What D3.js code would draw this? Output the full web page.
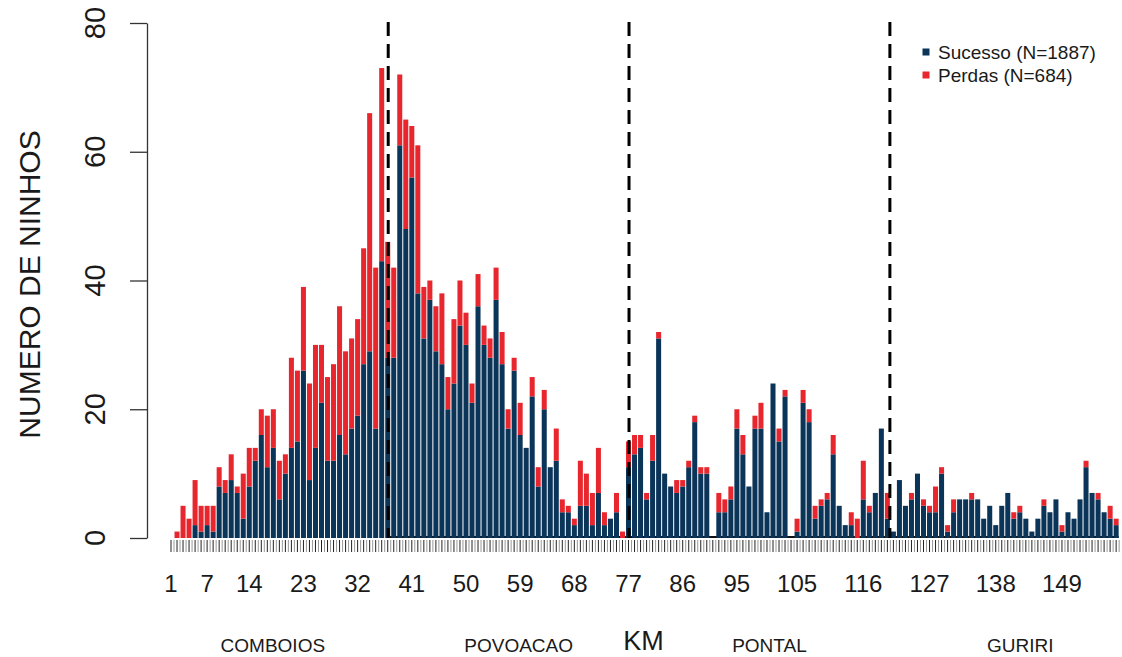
<!DOCTYPE html>
<html><head><meta charset="utf-8">
<script src="https://cdn.jsdelivr.net/npm/d3@7"></script>
<style>
body{margin:0;background:#fff}
svg text{font-family:"Liberation Sans",Arial,Helvetica,sans-serif;fill:#1a1a1a}
</style>
</head><body>
<svg id="chart" width="1122" height="657"></svg>
<script>
// ---- data ----
const km = d3.range(1, 159);
const sucesso = [
  0,0,0,0,2,1,2,1,8,7,
  9,7,3,8,12,16,11,14,6,10,
  14,15,26,9,14,21,12,12,16,13,
  17,19,27,29,17,43,28,28,61,48,
  56,38,31,37,29,27,20,24,33,30,
  21,36,30,28,37,27,17,26,16,14,
  22,8,20,11,12,4,4,2,5,5,
  2,7,2,3,4,0,11,13,14,6,
  12,31,10,8,7,8,11,18,10,10,
  0,4,4,6,17,13,8,17,17,4,
  24,15,22,0,1,21,18,3,5,6,
  13,5,2,2,0,6,4,7,17,3,
  1,9,5,6,10,5,4,4,10,1,
  4,6,6,6,6,3,5,2,5,7,
  3,4,3,1,3,5,4,6,1,4,
  3,6,11,7,6,4,3,2
];
const perdas = [
  0,1,5,3,7,4,3,4,3,2,
  4,1,7,6,2,4,8,6,6,3,
  14,11,13,15,16,9,13,15,20,16,
  14,15,18,37,25,30,18,14,11,17,
  8,23,8,3,7,11,5,10,7,5,
  3,5,3,3,5,5,3,2,5,0,
  3,3,3,0,5,2,1,1,7,5,
  5,7,2,0,3,1,4,3,2,1,
  4,1,0,0,2,1,1,1,1,1,
  0,3,2,2,3,3,0,2,4,0,
  0,2,1,0,2,2,2,2,1,1,
  3,0,0,2,3,6,1,0,0,4,
  0,0,0,1,0,1,1,4,1,1,
  2,0,0,1,0,0,0,0,0,0,
  1,1,0,0,0,1,0,0,1,0,
  0,0,1,0,1,0,2,1
];
const kmTickLabels = [1,7,14,23,32,41,50,59,68,77,86,95,105,116,127,138,149];
const yTickValues = [0,20,40,60,80];
const regionNames = ["COMBOIOS","POVOACAO","PONTAL","GURIRI"];
const regionAt = [21,70,120,170];      // in barplot units
const dividerAt = [44,92,144];         // in barplot units
const seriesNames = ["Sucesso (N=1887)","Perdas (N=684)"];
const seriesColors = ["#0b3459","#e8262d"];
const yTitle = "NUMERO DE NINHOS";
const xTitle = "KM";

// ---- scales ----
const svg = d3.select("#chart");
const xu = d3.scaleLinear().domain([0.7, 189.1]).range([171, 171 + 157*6.02]);
const x = d3.scaleBand().domain(km).range([xu(0.1), xu(189.7)])
  .paddingInner(1/6).paddingOuter(1/12);
const y = d3.scaleLinear().domain([0, 80]).range([538, 23]);

const rows = km.map((k,i) => ({km:k, s:sucesso[i], p:perdas[i]}));
const stack = d3.stack().keys(["s","p"])(rows);

// baseline segment (dark line under bars)
svg.append("line")
  .attr("x1", xu(dividerAt[0])).attr("x2", x(km[km.length-1]) + x.bandwidth())
  .attr("y1", y(0)-1).attr("y2", y(0)-1)
  .attr("stroke", "#111").attr("stroke-width", 2);

// bars
svg.append("g").selectAll("g").data(stack).join("g")
  .attr("fill", (d,i) => seriesColors[i])
  .selectAll("rect").data(d => d).join("rect")
  .attr("x", d => x(d.data.km))
  .attr("width", x.bandwidth())
  .attr("y", d => y(d[1]))
  .attr("height", d => y(d[0]) - y(d[1]));

// x ticks under every bar
const tg = svg.append("g");
tg.selectAll("line.c").data(km).join("line")
  .attr("x1", d => x(d) + x.bandwidth()/2).attr("x2", d => x(d) + x.bandwidth()/2)
  .attr("y1", 540).attr("y2", 552).attr("stroke", "#222").attr("stroke-width", 1);
tg.selectAll("line.g").data(km).join("line")
  .attr("x1", d => x(d) + x.bandwidth() + 0.5).attr("x2", d => x(d) + x.bandwidth() + 0.5)
  .attr("y1", 540).attr("y2", 552).attr("stroke", "#999").attr("stroke-width", 1);

// x tick labels
svg.append("g").selectAll("text").data(kmTickLabels).join("text")
  .attr("x", d => x(d) + x.bandwidth()/2).attr("y", 592)
  .attr("text-anchor", "middle").style("font-size", "24px")
  .text(d => d);

// dividers
svg.append("g").selectAll("line").data(dividerAt).join("line")
  .attr("x1", d => xu(d)).attr("x2", d => xu(d))
  .attr("y1", y(80) - 1).attr("y2", y(0))
  .attr("stroke", "#000").attr("stroke-width", 3)
  .attr("stroke-dasharray", "14 8");

// y axis
const yAxis = d3.axisLeft(y).tickValues(yTickValues).tickSize(17).tickSizeOuter(0).tickFormat("");
const ya = svg.append("g").attr("transform", "translate(147,0)").call(yAxis);
ya.selectAll("path,line").attr("stroke", "#333").attr("stroke-width", 1.3);
svg.append("g").selectAll("text").data(yTickValues).join("text")
  .attr("transform", d => `translate(95,${y(d)}) rotate(-90)`)
  .attr("text-anchor", "middle").attr("dy", "0.36em")
  .style("font-size", "29px").text(d => d);

// y title
svg.append("text")
  .attr("transform", `translate(29,${(y(0)+y(80))/2 + 4}) rotate(-90)`)
  .attr("text-anchor", "middle").attr("dy", "0.36em")
  .style("font-size", "30px").text(yTitle);

// region labels + KM
svg.append("g").selectAll("text").data(regionNames).join("text")
  .attr("x", (d,i) => xu(regionAt[i])).attr("y", 652)
  .attr("text-anchor", "middle").style("font-size", "19px")
  .text(d => d);
svg.append("text").attr("x", xu(94.9)).attr("y", 650)
  .attr("text-anchor", "middle").style("font-size", "27px").text(xTitle);

// legend
const lg = svg.append("g").selectAll("g").data(seriesNames).join("g")
  .attr("transform", (d,i) => `translate(926,${52 + i*23})`);
lg.append("rect").attr("x", -3.5).attr("y", -3.5).attr("width", 7).attr("height", 7)
  .attr("fill", (d,i) => seriesColors[i]);
lg.append("text").attr("x", 12).attr("dy", "0.36em")
  .style("font-size", "19px").text(d => d);
</script>
</body></html>
